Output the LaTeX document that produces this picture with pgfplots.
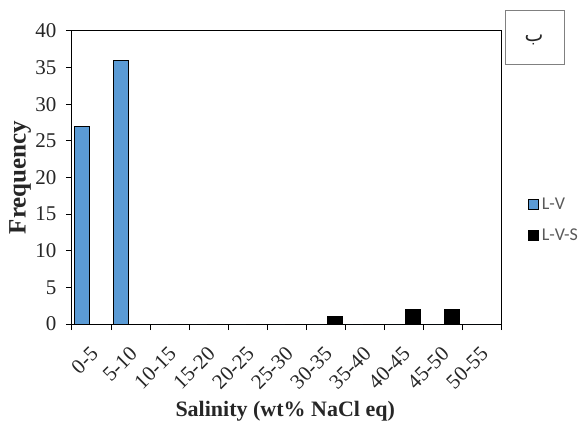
\documentclass[border=0pt]{standalone}
\usepackage{fontspec}
\setmainfont{Liberation Serif}
\newfontfamily\carlito{Carlito}
\newfontfamily\arabicfont[Script=Arabic]{DejaVu Sans}
\TeXXeTstate=1
\usepackage{pgfplots}
\pgfplotsset{compat=1.18}
\definecolor{barblue}{HTML}{5B9BD5}
\definecolor{leggray}{HTML}{595959}
\begin{document}
\begin{tikzpicture}[x=1pt,y=1pt]
\begin{axis}[
  at={(72pt,110pt)}, anchor=south west, scale only axis,
  width=429pt, height=293pt,
  xmin=-0.5, xmax=10.5, ymin=0, ymax=40,
  ytick={0,5,...,40},
  xtick={0,...,10},
  xticklabels={0-5,5-10,10-15,15-20,20-25,25-30,30-35,35-40,40-45,45-50,50-55},
  major x tick style={draw=none},
  minor xtick={-0.5,0.5,...,10.5},
  minor tick length=6pt, major tick length=6pt,
  tick align=outside, tick pos=left,
  tick style={black, line width=1pt},
  axis line style={line width=1pt},
  /pgf/number format/assume math mode=true,
  ticklabel style={font=\fontsize{21}{24}\selectfont, color=black!85},
  yticklabel style={xshift=-6pt},
  xticklabel style={anchor=north east, inner sep=1pt, xshift=-2pt, yshift=-14pt, rotate=45},
  xlabel={Salinity (wt\% NaCl eq)},
  ylabel={Frequency},
  label style={font=\fontsize{22}{26}\selectfont\bfseries, color=black!85},
  xlabel style={at={(axis description cs:0.497,-0.297)}, anchor=center},
  ylabel style={at={(axis description cs:-0.121,0.50)}, anchor=center,
    font=\fontsize{25}{28}\selectfont\bfseries},
  legend style={at={(1.062,0.43)}, anchor=north west, draw=none, fill=none,
    font=\carlito\fontsize{18}{20}\selectfont, text=leggray,
    row sep=18pt, inner sep=0pt, cells={anchor=west},
    nodes={inner xsep=3pt, inner ysep=0pt}},
  legend image code/.code={\draw[#1, line width=1pt] (0pt,-5pt) rectangle (10pt,5pt);},
]
\addplot[ybar, bar width=15pt, bar shift=-9.5pt, fill=barblue, draw=black, line width=1pt]
  coordinates {(0,27) (1,36) (2,0) (3,0) (4,0) (5,0) (6,0) (7,0) (8,0) (9,0) (10,0)};
\addlegendentry{L-V}
\addplot[ybar, bar width=15pt, bar shift=9.5pt, fill=black, draw=black, line width=1pt]
  coordinates {(0,0) (1,0) (2,0) (3,0) (4,0) (5,0) (6,1) (7,0) (8,2) (9,2) (10,0)};
\addlegendentry{L-V-S}
\end{axis}
\draw[gray, line width=1pt] (505pt,369pt) rectangle (564pt,423pt);
\node[font=\fontsize{20}{24}\selectfont, text=black!85] at (534pt,394pt) {\arabicfont\beginR ب\endR};
\pgfresetboundingbox
\path[use as bounding box] (0pt,0pt) rectangle (581pt,434pt);
\end{tikzpicture}
\end{document}
